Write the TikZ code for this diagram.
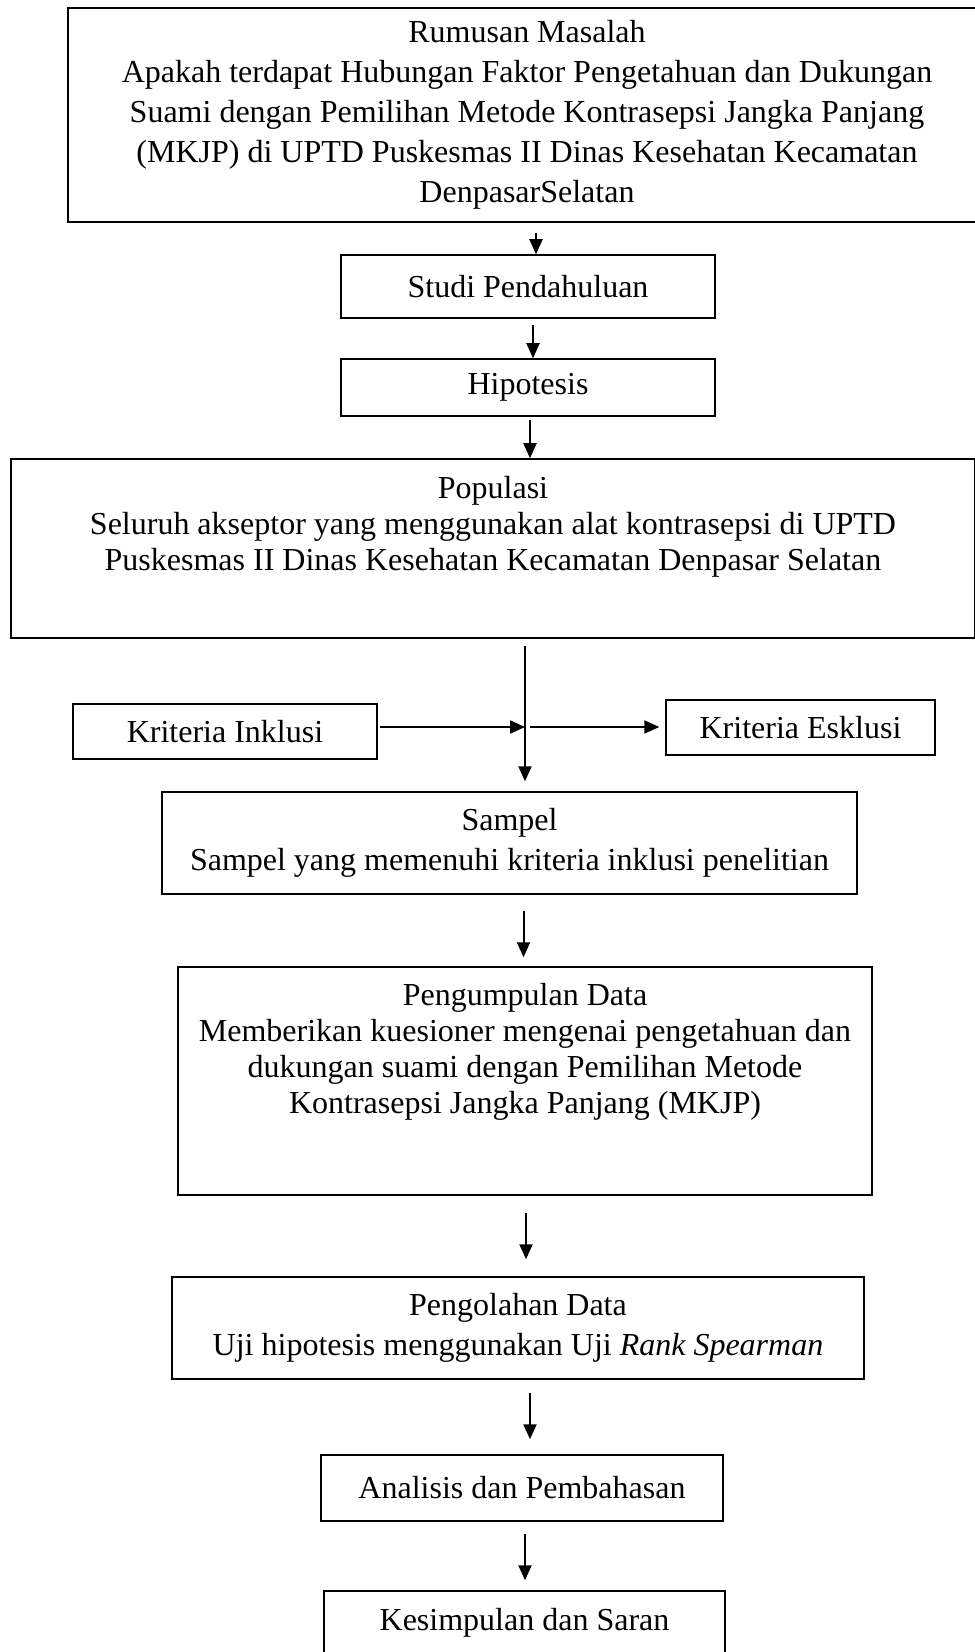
\documentclass[tikz,border=0pt]{standalone}
\usepackage{fontspec}
\setmainfont{Liberation Serif}
\usetikzlibrary{arrows.meta}

\begin{document}
\begin{tikzpicture}[
  x=0.5pt, y=-0.5pt,
  >={Triangle[length=7.5pt,width=6.5pt]},
  every node/.style={font=\fontsize{16}{20}\selectfont},
  box/.style={draw,line width=0.75pt,align=center,inner sep=0pt},
  tight/.style={align=center,font=\fontsize{16}{18}\selectfont},
  arr/.style={->,line width=1pt}
]
\useasboundingbox (0,0) rectangle (974,1652);

% boxes
\node[box,minimum width=459pt,minimum height=107pt] (rumusan) at (527,115)
  {Rumusan Masalah\\
   Apakah terdapat Hubungan Faktor Pengetahuan dan Dukungan\\
   Suami dengan Pemilihan Metode Kontrasepsi Jangka Panjang\\
   (MKJP) di UPTD Puskesmas II Dinas Kesehatan Kecamatan\\
   DenpasarSelatan};
\node[box,minimum width=187pt,minimum height=31.5pt] (studi) at (528,286.5) {Studi Pendahuluan};
\node[box,minimum width=187pt,minimum height=28.5pt] (hipotesis) at (528,387.5) {Hipotesis};
\node[box,minimum width=482pt,minimum height=89.5pt] (populasi) at (493,548.5) {};
\node[tight] (populasitxt) at (493,527)
  {Populasi\\
   Seluruh akseptor yang menggunakan alat kontrasepsi di UPTD\\
   Puskesmas II Dinas Kesehatan Kecamatan Denpasar Selatan};
\node[box,minimum width=152pt,minimum height=27.5pt] (inklusi) at (225,731.5) {Kriteria Inklusi};
\node[box,minimum width=134.5pt,minimum height=27.5pt] (esklusi) at (800.5,727.5) {Kriteria Esklusi};
\node[box,minimum width=347.5pt,minimum height=51pt] (sampel) at (509.5,843)
  {Sampel\\Sampel yang memenuhi kriteria inklusi penelitian};
\node[box,minimum width=347pt,minimum height=114pt] (pengumpulan) at (525,1081) {};
\node[tight] (pengumpulantxt) at (525,1052)
  {Pengumpulan Data\\
   Memberikan kuesioner mengenai pengetahuan dan\\
   dukungan suami dengan Pemilihan Metode\\
   Kontrasepsi Jangka Panjang (MKJP)};
\node[box,minimum width=346pt,minimum height=51pt] (pengolahan) at (518,1328)
  {Pengolahan Data\\Uji hipotesis menggunakan Uji \textit{Rank Spearman}};
\node[box,minimum width=201pt,minimum height=33pt] (analisis) at (522,1488) {Analisis dan Pembahasan};
\node[box,minimum width=200.5pt,minimum height=32pt] (kesimpulan) at (524.5,1623) {Kesimpulan dan Saran};

% arrows
\draw[arr,shorten <=5pt] ([xshift=4pt]studi.north |- rumusan.south) -- ([xshift=4pt]studi.north);
\draw[arr,shorten <=3pt] ([xshift=2.5pt]studi.south) -- ([xshift=2.5pt]hipotesis.north);
\draw[arr,shorten <=1.5pt] ([xshift=1pt]hipotesis.south) -- ([xshift=1pt]hipotesis.south |- populasi.north);
\coordinate (hub) at (525,727);
\draw[arr,shorten <=3.5pt,shorten >=5pt] (populasi.south -| hub) -- (sampel.north -| hub);
\draw[arr,shorten <=1pt] (inklusi.east |- hub) -- (hub);
\draw[arr,shorten <=2.5pt,shorten >=3pt] (hub) -- (hub -| esklusi.west);
\draw[arr,shorten <=8pt,shorten >=4.5pt] ([xshift=7pt]sampel.south) -- ([xshift=7pt]sampel.south |- pengumpulan.north);
\draw[arr,shorten <=8.5pt,shorten >=8.5pt] ([xshift=0.5pt]pengumpulan.south) -- ([xshift=0.5pt]pengumpulan.south |- pengolahan.north);
\draw[arr,shorten <=6.5pt,shorten >=7.5pt] ([xshift=6pt]pengolahan.south) -- ([xshift=6pt]pengolahan.south |- analisis.north);
\draw[arr,shorten <=6pt,shorten >=5pt] ([xshift=1.5pt]analisis.south) -- ([xshift=1.5pt]analisis.south |- kesimpulan.north);
\end{tikzpicture}
\end{document}
